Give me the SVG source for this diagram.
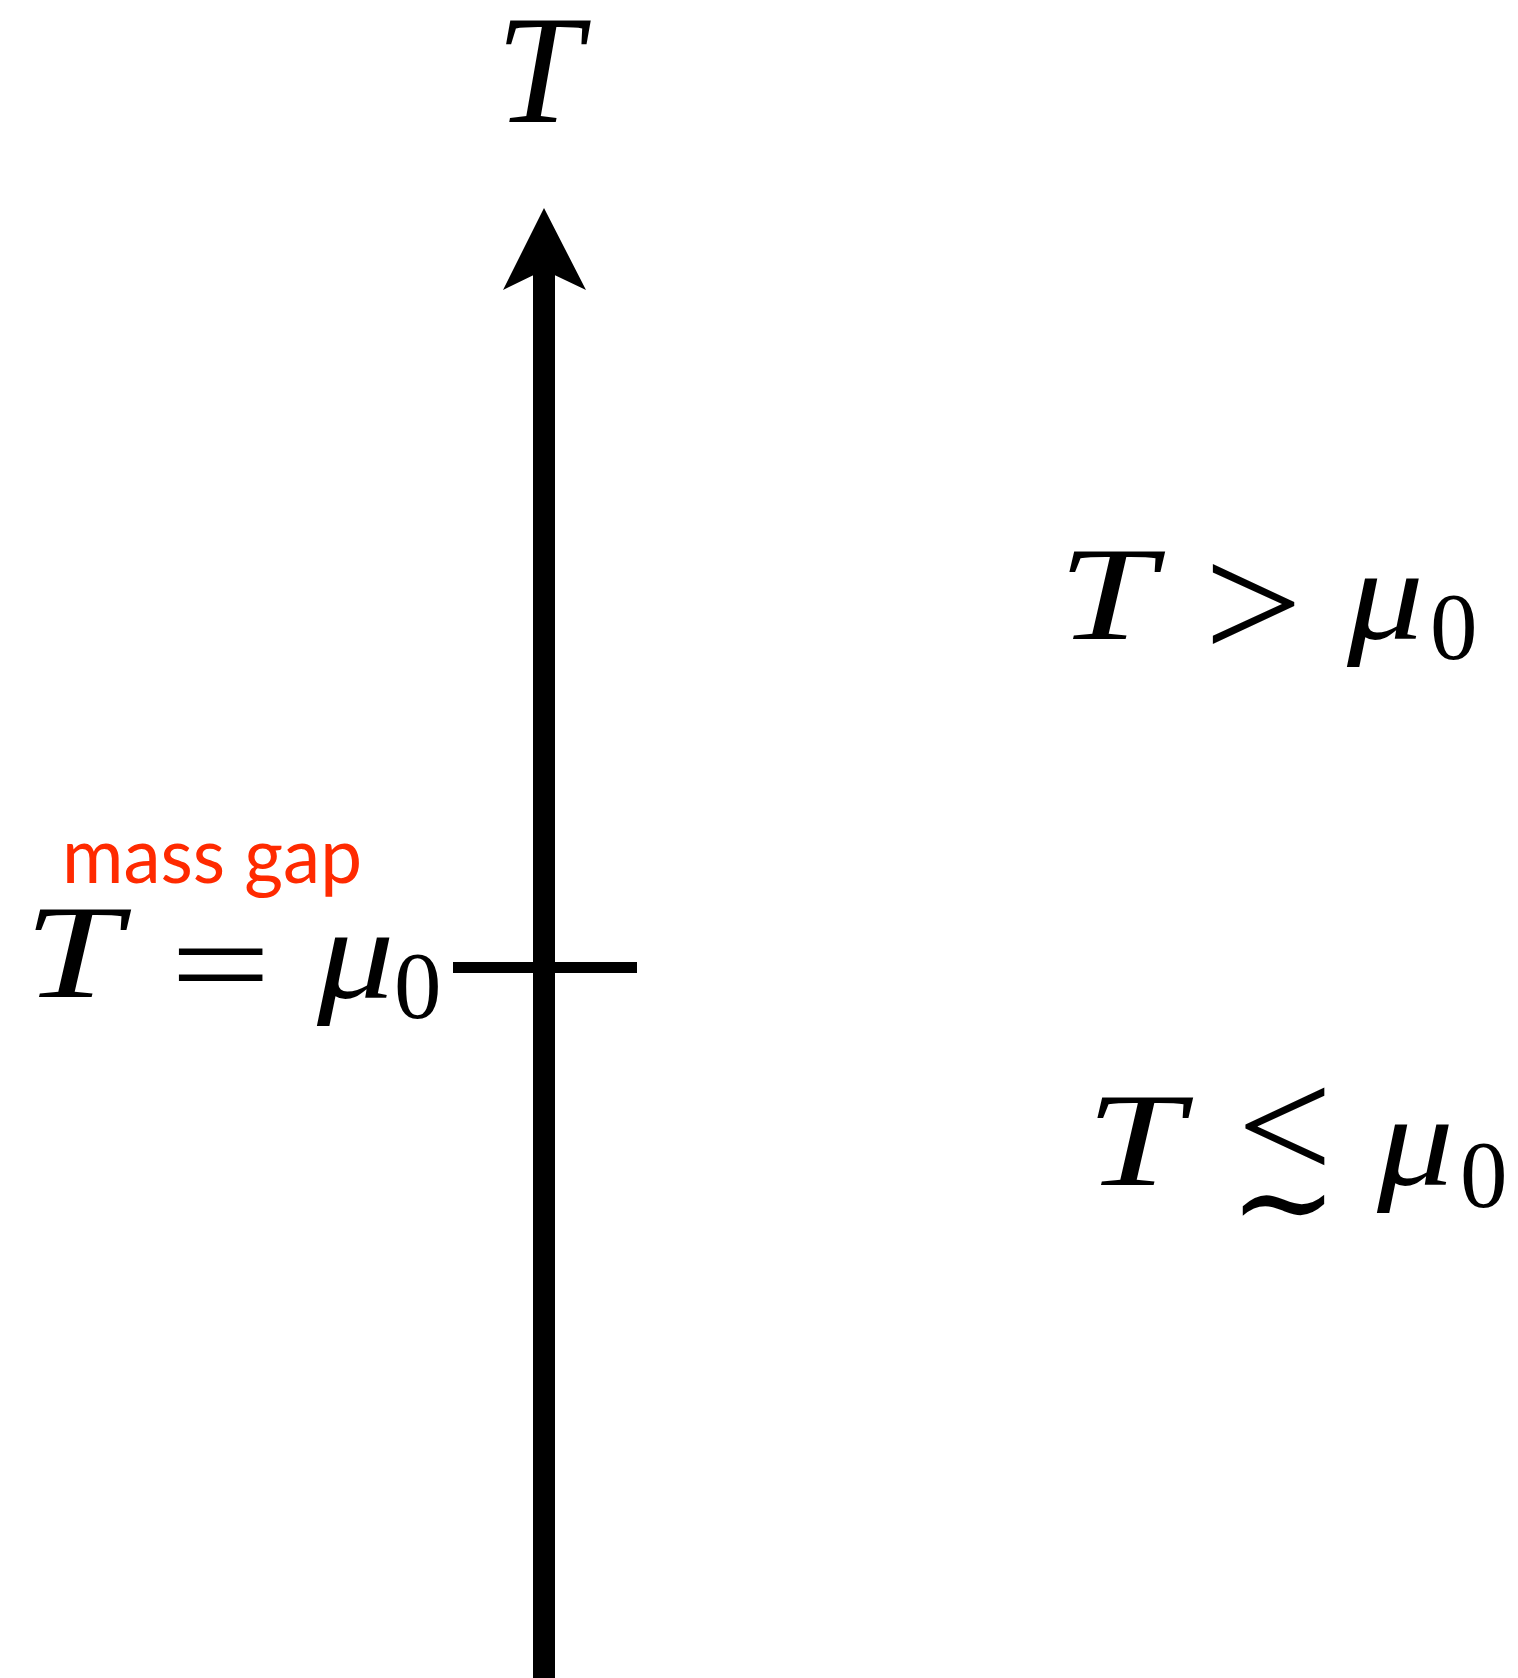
<svg xmlns="http://www.w3.org/2000/svg" width="1518" height="1678" viewBox="0 0 1518 1678">
<style>
.it{font-family:"Liberation Serif","Times New Roman",serif;font-style:italic;fill:#000}
.rm{font-family:"Liberation Serif","Times New Roman",serif;fill:#000}
.rel{font-family:"Liberation Serif","Times New Roman",serif;fill:#000}
.sim{font-family:"DejaVu Serif",serif;fill:#000}
.red{font-family:Lato,"Open Sans",sans-serif;fill:#ff2a00}
</style>
<rect width="1518" height="1678" fill="#fff"/>
<g id="connectors">
<line x1="544" y1="1678" x2="544" y2="260" stroke="#000" stroke-width="22"/>
<polygon points="544,208 586,290 544,270 503,290" fill="#000"/>
<line x1="453" y1="967.5" x2="637" y2="967.5" stroke="#000" stroke-width="11"/>
</g>
<g id="axis-label">
<text class="it" x="496" y="122" font-size="154">T</text>
</g>
<g id="mass-gap">
<text class="red" x="62" y="883" font-size="77" textLength="300" lengthAdjust="spacingAndGlyphs">mass gap</text>
</g>
<g id="eq-label">
<text class="it" transform="translate(24,997) scale(1.3,1)" font-size="134">T</text>
<text class="rel" transform="translate(170,1008) scale(1.38,1)" font-size="130">=</text>
<text class="it" transform="translate(317,998) scale(1.17,1)" font-size="132">μ</text>
<text class="rm" x="394" y="1018" font-size="95">0</text>
</g>
<g id="gt-label">
<text class="it" transform="translate(1058,639) scale(1.3,1)" font-size="134">T</text>
<text class="rel" transform="translate(1204,659) scale(1.06,1)" font-size="165">&gt;</text>
<text class="it" transform="translate(1347,639) scale(1.16,1)" font-size="132">μ</text>
<text class="rm" x="1430" y="659" font-size="95">0</text>
</g>
<g id="lesssim-label">
<text class="it" transform="translate(1086,1185) scale(1.3,1)" font-size="134">T</text>
<text class="rel" transform="translate(1237,1180) scale(1.06,1)" font-size="160">&lt;</text>
<text class="sim" x="1229" y="1246" font-size="130">∼</text>
<text class="it" transform="translate(1377,1185) scale(1.16,1)" font-size="132">μ</text>
<text class="rm" x="1460" y="1207" font-size="95">0</text>
</g>
</svg>
